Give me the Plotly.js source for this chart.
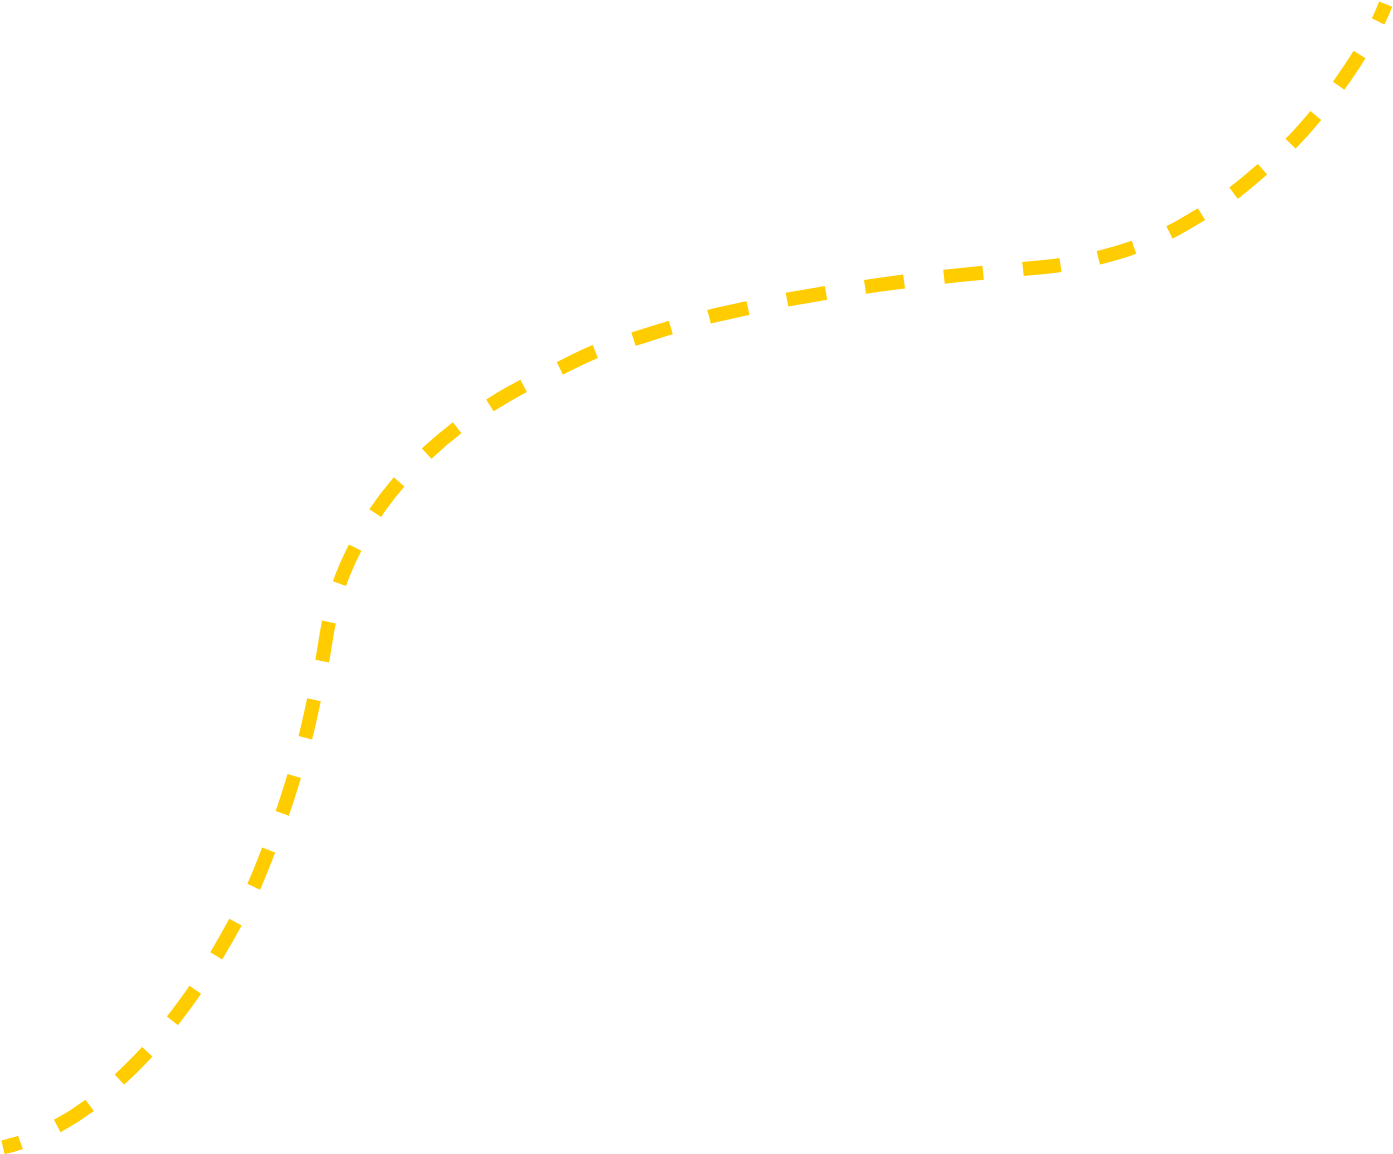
<!DOCTYPE html>
<html>
<head>
<meta charset="utf-8">
<script src="https://cdn.plot.ly/plotly-3.0.1.min.js"></script>
<style>html,body{margin:0;padding:0;background:#fff;}#chart{width:1393px;height:1154px;}</style>
</head>
<body>
<div id="chart"></div>
<script>
// Points read along the curve from the picture (pixel-like units, y measured downward).
// They are taken at the ends of the visible dashes, in order along the curve.
const curveX = [3, 20.5, 57.3, 89.7, 119.5, 147.3, 172.5, 195.3, 216.3, 235.5,
  253.7, 268.7, 282.3, 294.3, 305.3, 314, 322.2, 329, 339.5, 355.2,
  375.3, 399.2, 426.8, 457.3, 490, 523.8, 560, 595.5, 633.7, 671,
  709.3, 748.2, 787.2, 826.2, 865.2, 904.3, 944.2, 983.3, 1023.2, 1060.7,
  1098.5, 1134.2, 1169.7, 1201.7, 1233.7, 1262.7, 1290.7, 1316, 1338.8, 1359.7,
  1378.2, 1385.8];
const curveY = [1147.3, 1142.3, 1126, 1105.3, 1079.5, 1051.7, 1020.8, 989.7, 955.8, 922,
  886.7, 850, 813.3, 776, 737.7, 699.7, 661, 622, 583.5, 547.5,
  513, 481.7, 453.5, 427.7, 405.3, 385.8, 368.3, 351.5, 339.2, 327.5,
  316.7, 308, 299.7, 292.8, 286.8, 281.5, 276.8, 272.7, 269, 265,
  257.7, 247.2, 232.3, 214, 193, 169, 143.5, 115.2, 85.5, 54.3,
  21.2, 3.8];

// Dash pattern: each dash runs from one sampled point to the next, then a gap to the next one.
const dashParts = [];
for (let i = 1; i < curveX.length; i++) {
  dashParts.push(Math.hypot(curveX[i] - curveX[i - 1], curveY[i] - curveY[i - 1]).toFixed(2) + 'px');
}
dashParts.push('400px');
const dashPattern = dashParts.join(',');

const trace = {
  x: curveX,
  y: curveY,
  type: 'scatter',
  mode: 'lines',
  line: {color: '#FFCC00', width: 14, dash: dashPattern, shape: 'spline', smoothing: 1},
  hoverinfo: 'skip'
};

const layout = {
  width: 1393,
  height: 1154,
  margin: {l: 0, r: 0, t: 0, b: 0, pad: 0},
  paper_bgcolor: '#ffffff',
  plot_bgcolor: '#ffffff',
  showlegend: false,
  xaxis: {range: [0, 1393], visible: false, fixedrange: true},
  yaxis: {range: [1154, 0], visible: false, fixedrange: true}
};

Plotly.newPlot('chart', [trace], layout, {displayModeBar: false, staticPlot: true});
</script>
</body>
</html>
